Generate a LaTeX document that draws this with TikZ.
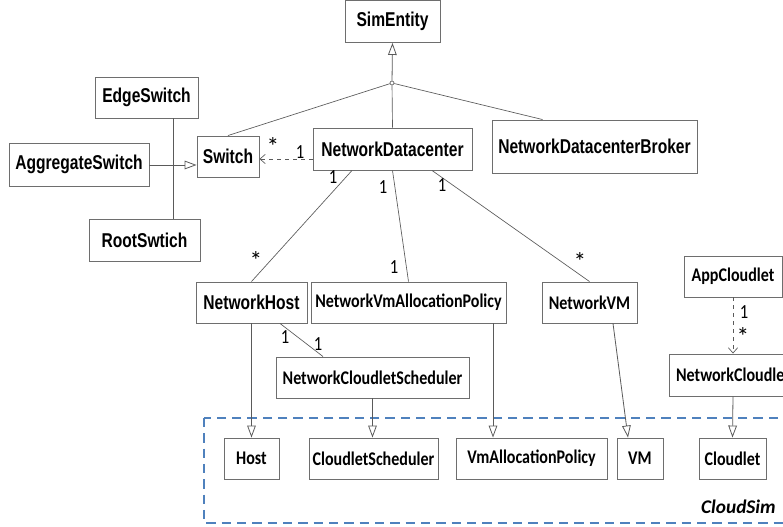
\documentclass[tikz,border=0pt]{standalone}
\usepackage{fontspec}
\setmainfont{Carlito}[FakeStretch=0.83]
\newfontfamily\plainfont{Carlito}
\newfontfamily\narrowfont[FakeStretch=0.78]{Liberation Sans}
\usetikzlibrary{arrows.meta,calc}
\definecolor{boxgray}{HTML}{6E6E6E}
\definecolor{linegray}{HTML}{5A5A5A}
\definecolor{simblue}{HTML}{4F81BD}

\tikzset{
  cls/.style={draw=boxgray, line width=0.7pt, rectangle, inner sep=0pt, minimum height=30.75pt, font=\bfseries\fontsize{14.5}{16}\selectfont},
  ncls/.style={cls, font=\narrowfont\bfseries\fontsize{15}{18}\selectfont},
  gen/.style={draw=linegray, line width=0.6pt, -{Triangle[open, length=9pt, width=6.5pt]}},
  assoc/.style={draw=linegray, line width=0.5pt},
  dep/.style={draw=linegray, line width=0.5pt, dashed, -{Straight Barb[length=4pt, width=7pt]}},
  mult/.style={inner sep=0pt, font=\fontsize{15}{17}\selectfont},
  many/.style={inner sep=0pt, font=\plainfont\fontsize{19}{20}\selectfont},
}

\begin{document}
\begin{tikzpicture}[x=0.75pt, y=-0.75pt]
\useasboundingbox (0,0) rectangle (783,527);
\clip (0,0) rectangle (783,527);

% CloudSim package
\draw[simblue, line width=1.8pt, dash pattern=on 7pt off 4.5pt] (204,418) rectangle (800,523);
\node (cloudsim) [anchor=east, inner sep=0pt, font=\plainfont\bfseries\itshape\fontsize{14.5}{16}\selectfont] at (776,507) {CloudSim};

% entities
\node (simentity) [ncls, minimum width=71.25pt, minimum height=31.5pt] at (392.5,21.5) {SimEntity};
\node (join) [circle, draw=linegray, line width=0.5pt, inner sep=0pt, minimum size=3pt] at (392,83) {};
\node (edge) [ncls, minimum width=77.25pt] at (146.5,97.5) {EdgeSwitch};
\node (aggregate) [ncls, minimum width=105pt, minimum height=32.25pt] at (79,164.5) {AggregateSwitch};
\node (root) [ncls, minimum width=83.25pt, minimum height=31.5pt] at (144.5,240) {RootSwtich};
\node (switch) [ncls, minimum width=46.5pt] at (228,156.5) {Switch};
\node (ndc) [ncls, minimum width=119.25pt, minimum height=31.5pt] at (392.5,149) {NetworkDatacenter};
\node (ndcb) [ncls, minimum width=153.75pt, minimum height=39.75pt] at (594.5,146.5) {NetworkDatacenterBroker};
\coordinate (bus) at (173,165);

% network classes
\node (nhost) [ncls, minimum width=83.25pt] at (251.5,302.5) {NetworkHost};
\node (nvap) [cls, minimum width=146.25pt] at (408.5,302.5) {NetworkVmAllocationPolicy};
\node (nvm) [cls, minimum width=71.25pt] at (589.5,302.5) {NetworkVM};
\node (ncs) [cls, minimum width=144.75pt] at (372.5,377.5) {NetworkCloudletScheduler};
\node (appcloudlet) [cls, minimum width=73.5pt] at (733,276.5) {AppCloudlet};
\node (ncloudlet) [cls, minimum width=96pt, minimum height=31.5pt] at (733,375) {NetworkCloudlet};

% cloudsim classes
\node (host) [cls, minimum width=41.25pt] at (251.5,458.5) {Host};
\node (cs) [cls, minimum width=96.75pt] at (373.5,458.5) {CloudletScheduler};
\node (vap) [cls, minimum width=113.25pt] at (531.5,458.5) {VmAllocationPolicy};
\node (vm) [cls, minimum width=34.5pt] at (640,458.5) {VM};
\node (cloudlet) [cls, minimum width=50.25pt] at (732.5,458.5) {Cloudlet};

% connectors
\draw[gen] (join) -- (simentity.south);
\draw[assoc] (join) -- (switch.north);
\draw[assoc] (join) -- (ndc.north);
\draw[assoc] (join) -- ($(ndcb.north)+(-52,0)$);
\draw[assoc] (edge.south -| bus) -- (root.north -| bus);
\draw[gen] (aggregate.east |- bus) -- (switch.west |- bus);
\draw[dep] ($(ndc.west)+(0,10)$) -- ($(switch.east)+(0,2.5)$);
\draw[assoc] ($(ndc.south)+(-40.5,0)$) -- (nhost.north);
\draw[assoc] (ndc.south) -- (nvap.north);
\draw[assoc] ($(ndc.south)+(39.5,0)$) -- (nvm.north);
\draw[assoc] ($(nhost.south)+(28.5,0)$) -- ($(ncs.north)+(-49.5,0)$);
\draw[gen] (nhost.south) -- (host.north);
\draw[gen] (ncs.south) -- (ncs.south |- cs.north);
\draw[gen] ($(nvap.south)+(84.5,0)$) coordinate (vapline) -- (vapline |- vap.north);
\draw[gen] ($(nvm.south)+(23.5,0)$) -- ($(vm.north)+(-12,0)$);
\draw[dep] (appcloudlet.south) -- (ncloudlet.north);
\draw[gen] (ncloudlet.south) -- (cloudlet.north);

% multiplicities
\node (mswitch) [many] at (273,147) {*};
\node (mndcsw) [mult] at (300,152) {1};
\node (mndchost) [mult] at (333,177) {1};
\node (mndcvap) [mult] at (383,187) {1};
\node (mndcvm) [mult] at (442,185) {1};
\node (mhost) [many] at (256,261) {*};
\node (mvap) [mult] at (394,267) {1};
\node (mvm) [many] at (580,262) {*};
\node (mhostcs) [mult] at (285,337) {1};
\node (mcs) [mult] at (318,344) {1};
\node (mapp) [mult] at (744,312) {1};
\node (mncl) [many] at (743,337) {*};
\end{tikzpicture}
\end{document}
